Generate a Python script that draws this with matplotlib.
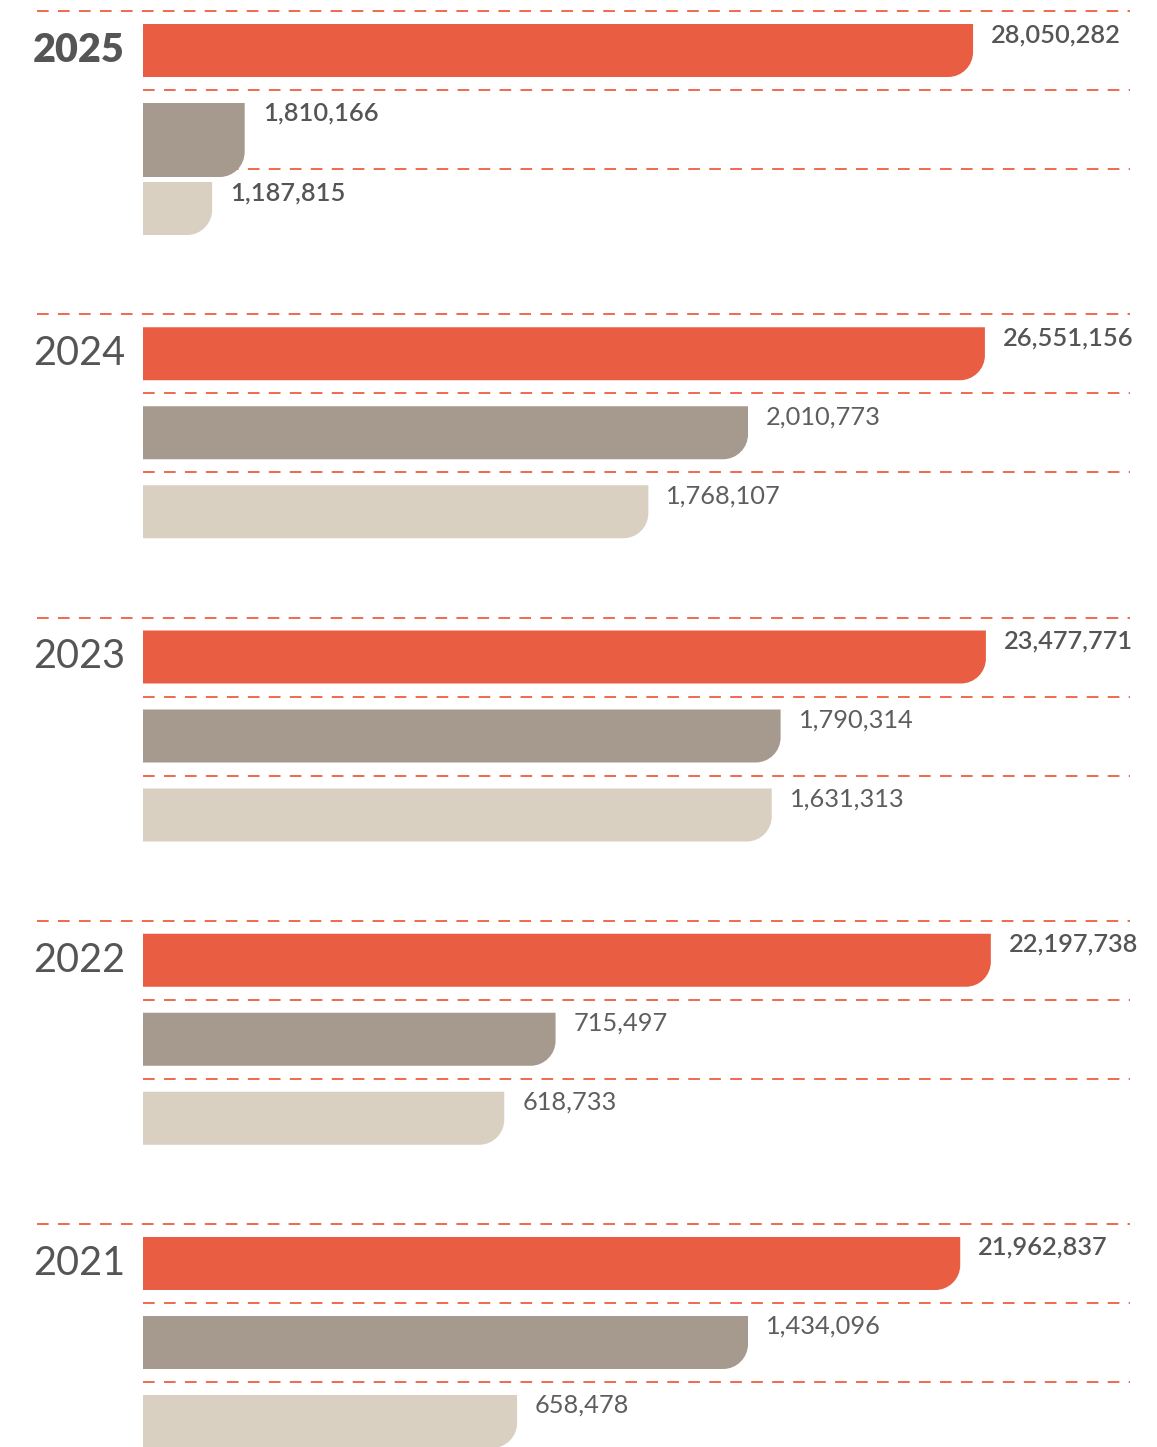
import matplotlib
matplotlib.use("Agg")
import matplotlib.pyplot as plt
from matplotlib.path import Path
from matplotlib.patches import PathPatch

# ---------------- data ----------------
years = ["2025", "2024", "2023", "2022", "2021"]
values_primary = [28050282, 26551156, 23477771, 22197738, 21962837]
values_secondary = [1810166, 2010773, 1790314, 715497, 1434096]
values_tertiary = [1187815, 1768107, 1631313, 618733, 658478]
# bar lengths as drawn in the reference (percent of the bar track)
shown_primary = [84.1, 85.3, 85.4, 85.9, 82.8]
shown_secondary = [10.3, 61.3, 64.6, 41.8, 61.3]
shown_tertiary = [7.0, 51.2, 63.7, 36.6, 37.9]

# ---------------- style / layout ----------------
W, H = 1157, 1447
TRACK_L, TRACK_R = 143, 1130
LINE_L = 37
GROUP_TOP0, GROUP_PITCH = 11, 303.25
ROW_PITCH, BAR_OFF, BAR_H = 79, 13, 53
RADIUS = 25
LABEL_GAP = 18
colors = ["#E95E42", "#A59A8D", "#D9D0C2"]
dash_color = "#EE6446"
text_color = "#555555"
height_override = {(0, 1): 74}

plt.rcParams["lines.scale_dashes"] = False
fig = plt.figure(figsize=(W / 100, H / 100), dpi=100)
ax = fig.add_axes([TRACK_L / W, 0, (TRACK_R - TRACK_L) / W, 1])
ax.set_xlim(0, 100)
ax.set_ylim(H, 0)
ax.axis("off")

px = 100 / (TRACK_R - TRACK_L)  # x data units per pixel
K = 0.4477


def rounded_bar(x1, y0, y1, color):
    rx = RADIUS * px
    ry = RADIUS
    verts = [
        (0, y0), (x1, y0), (x1, y1 - ry),
        (x1, y1 - ry * K), (x1 - rx * K, y1), (x1 - rx, y1),
        (0, y1), (0, y0),
    ]
    codes = [Path.MOVETO, Path.LINETO, Path.LINETO,
             Path.CURVE4, Path.CURVE4, Path.CURVE4,
             Path.LINETO, Path.CLOSEPOLY]
    ax.add_patch(PathPatch(Path(verts, codes), facecolor=color,
                           edgecolor="none", zorder=3, clip_on=False))


shown = [shown_primary, shown_secondary, shown_tertiary]
vals = [values_primary, values_secondary, values_tertiary]
dash = (0, (8.4, 6.7))

for g, year in enumerate(years):
    top = GROUP_TOP0 + g * GROUP_PITCH
    for r in range(3):
        line_y = top + r * ROW_PITCH
        xs = (LINE_L - TRACK_L) * px if r == 0 else 0
        ax.plot([xs, 100], [line_y, line_y], color=dash_color, lw=1.35,
                ls=dash, zorder=1, clip_on=False, solid_capstyle="butt",
                dash_capstyle="butt")
        y0 = line_y + BAR_OFF
        y1 = y0 + height_override.get((g, r), BAR_H)
        x1 = shown[r][g]
        rounded_bar(x1, y0, y1, colors[r])
        if g == 0 or r == 0:
            weight, col = 600, text_color
        else:
            weight, col = 400, "#5E5E5E"
        ax.text(x1 + LABEL_GAP * px, y0 + 18, f"{vals[r][g]:,}",
                fontsize=18.3, family="Lato", weight=weight,
                color=col, ha="left", va="baseline", zorder=4)
    ax.text((33 - TRACK_L) * px, top + BAR_OFF + 38, year,
            fontsize=28.5, family="Lato",
            weight="heavy" if g == 0 else 400,
            color=text_color, ha="left", va="baseline", zorder=4)

fig.savefig("out.png", dpi=100, facecolor="white")
